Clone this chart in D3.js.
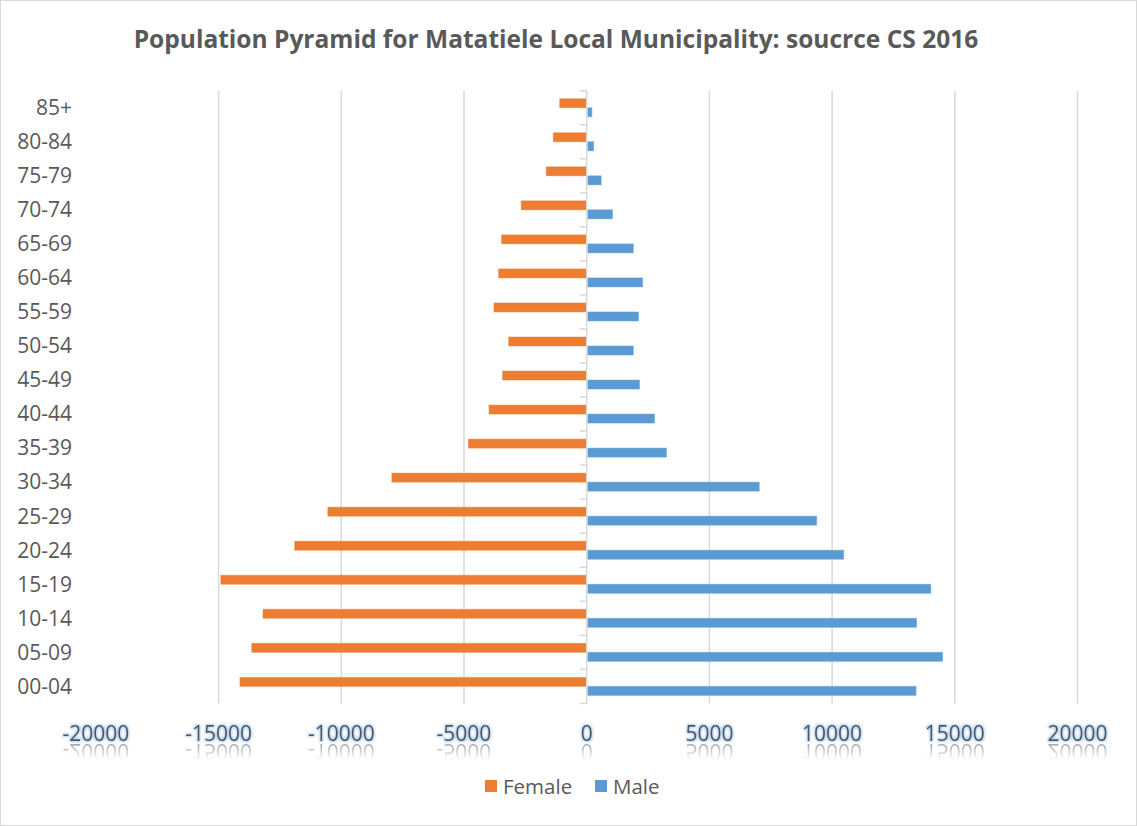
<!DOCTYPE html>
<html>
<head>
<meta charset="utf-8">
<script src="https://cdn.jsdelivr.net/npm/d3@7"></script>
<style>
  html, body { margin: 0; padding: 0; background: #fff; }
  svg { display: block; }
</style>
</head>
<body>
<svg id="chart" width="1137" height="826"></svg>
<script>
// Age groups, youngest first
const ageGroups = ["00-04","05-09","10-14","15-19","20-24","25-29","30-34","35-39","40-44",
                   "45-49","50-54","55-59","60-64","65-69","70-74","75-79","80-84","85+"];
// Population counts per age group (female plotted to the left of zero)
const female = [14130, 13650, 13190, 14910, 11900, 10550, 7940, 4820, 3980,
                3430, 3180, 3780, 3590, 3470, 2670, 1650, 1360, 1100];
const male   = [13400, 14480, 13420, 14000, 10450, 9350, 7010, 3230, 2740,
                2130, 1880, 2090, 2260, 1880, 1030, 570, 260, 190];
const seriesNames = ["Female", "Male"];
const xTicks = [-20000, -15000, -10000, -5000, 0, 5000, 10000, 15000, 20000];
const titleText = "Population Pyramid for Matatiele Local Municipality: soucrce CS 2016";

const colors = { Female: "#ED7D31", Male: "#5B9BD5" };
const W = 1137, H = 826;
const plot = { left: 95.9, right: 1077.5, top: 90.7, bottom: 703.4 };
const font = "'Open Sans', 'Noto Sans', sans-serif";

const svg = d3.select("#chart");

// outer frame
svg.append("rect").attr("x", 0.5).attr("y", 0.5).attr("width", W - 1).attr("height", H - 1)
  .attr("fill", "#fff").attr("stroke", "#d9d9d9");

const defs = svg.append("defs");
// soft blue halo around the value-axis labels
const glow = defs.append("filter").attr("id", "glow").attr("x", "-20%").attr("y", "-40%")
  .attr("width", "140%").attr("height", "180%");
glow.append("feMorphology").attr("in", "SourceAlpha").attr("operator", "dilate").attr("radius", 1).attr("result", "dil");
glow.append("feGaussianBlur").attr("in", "dil").attr("stdDeviation", 1).attr("result", "blur");
glow.append("feFlood").attr("flood-color", "#9DC3E6").attr("flood-opacity", 0.75);
glow.append("feComposite").attr("in2", "blur").attr("operator", "in").attr("result", "halo");
const gm = glow.append("feMerge");
gm.append("feMergeNode").attr("in", "halo");
gm.append("feMergeNode").attr("in", "SourceGraphic");

// fading mask for the mirrored labels
const grad = defs.append("linearGradient").attr("id", "fade").attr("x1", 0).attr("y1", 0).attr("x2", 0).attr("y2", 1);
grad.append("stop").attr("offset", "0%").attr("stop-color", "#fff").attr("stop-opacity", 0.55);
grad.append("stop").attr("offset", "100%").attr("stop-color", "#fff").attr("stop-opacity", 0);
const mask = defs.append("mask").attr("id", "reflMask").attr("maskUnits", "userSpaceOnUse");
mask.append("rect").attr("x", 0).attr("y", 744).attr("width", W).attr("height", 16).attr("fill", "url(#fade)");
const blurF = defs.append("filter").attr("id", "soft");
blurF.append("feGaussianBlur").attr("stdDeviation", 0.5);

// scales
const x = d3.scaleLinear().domain([xTicks[0], xTicks[xTicks.length - 1]]).range([plot.left, plot.right]);
const y = d3.scaleBand().domain(ageGroups.slice().reverse()).range([plot.top, plot.bottom]).padding(0);
const ySub = d3.scaleBand().domain(seriesNames).range([0, y.bandwidth()]).paddingInner(0).paddingOuter(0.89);

// title, sized to span its usual width
const title = svg.append("text").attr("x", 556).attr("y", 48).attr("text-anchor", "middle")
  .attr("font-family", font).attr("font-weight", 700).attr("font-size", 24)
  .attr("fill", "#595959").text(titleText);
const tw = title.node().getComputedTextLength();
title.attr("font-size", 24 * 845 / tw);

// vertical gridlines (none drawn at the left edge or at zero)
svg.append("g").selectAll("line").data(xTicks.filter(d => d !== 0 && d !== xTicks[0])).join("line")
  .attr("x1", d => x(d)).attr("x2", d => x(d))
  .attr("y1", plot.top).attr("y2", plot.bottom)
  .attr("stroke", "#d9d9d9").attr("stroke-width", 1.5);

// bars
const rows = ageGroups.map((g, i) => ({ group: g, Female: -female[i], Male: male[i] }));
const barG = svg.append("g");
seriesNames.forEach(s => {
  barG.append("g").selectAll("rect").data(rows).join("rect")
    .attr("x", d => Math.min(x(0), x(d[s])) + (s === "Male" ? 1 : 0))
    .attr("width", d => Math.abs(x(d[s]) - x(0)) - 0.5)
    .attr("y", d => y(d.group) + ySub(s))
    .attr("height", ySub.bandwidth())
    .attr("fill", colors[s])
    .attr("stroke", colors[s]).attr("stroke-opacity", 0.45).attr("stroke-width", 1);
});

// category axis at zero with ticks pointing left
const yAxis = d3.axisLeft(y).tickSize(7).tickFormat("");
const yAxisG = svg.append("g").attr("transform", `translate(${x(0)},0)`);
yAxisG.call(yAxis);
yAxisG.selectAll(".tick").remove();
yAxisG.select(".domain").attr("stroke", "#d9d9d9").attr("stroke-width", 1.5)
  .attr("d", `M0,${plot.top}V${plot.bottom}`);
// tick marks on category boundaries
const bounds = ageGroups.map(g => y(g)).concat([plot.bottom]);
yAxisG.selectAll("line.bnd").data(bounds).join("line").attr("class", "bnd")
  .attr("x1", -7).attr("x2", 0).attr("y1", d => d).attr("y2", d => d)
  .attr("stroke", "#d9d9d9").attr("stroke-width", 1.5);

// category labels on the left
svg.append("g").selectAll("text").data(ageGroups).join("text")
  .attr("x", 72).attr("y", d => y(d) + y.bandwidth() / 2)
  .attr("dy", "0.35em").attr("text-anchor", "end")
  .attr("font-family", font).attr("font-size", 21).attr("fill", "#595959")
  .text(d => d);

// value-axis labels with glow and reflection
const fmt = d => String(d);
const xAxisG = svg.append("g");
xAxisG.selectAll("text.lbl").data(xTicks).join("text").attr("class", "lbl")
  .attr("x", d => x(d)).attr("y", 741).attr("text-anchor", "middle")
  .attr("font-family", font).attr("font-size", 21).attr("fill", "#4A5561")
  .attr("filter", "url(#glow)").text(fmt);
const refl = xAxisG.append("g").attr("mask", "url(#reflMask)");
refl.selectAll("text").data(xTicks).join("text")
  .attr("x", d => x(d)).attr("y", 741).attr("text-anchor", "middle")
  .attr("transform", "translate(0,1485) scale(1,-1)")
  .attr("font-family", font).attr("font-size", 21).attr("fill", "#5a6570")
  .attr("filter", "url(#soft)").text(fmt);

// legend
const legend = svg.append("g");
const legendItems = [{ name: "Female", x: 485 }, { name: "Male", x: 595 }];
legend.selectAll("rect").data(legendItems).join("rect")
  .attr("x", d => d.x).attr("y", 780).attr("width", 12).attr("height", 12)
  .attr("fill", d => colors[d.name]);
legend.selectAll("text").data(legendItems).join("text")
  .attr("x", d => d.x + 18).attr("y", 794)
  .attr("font-family", font).attr("font-size", 20.5).attr("fill", "#595959")
  .text(d => d.name);
</script>
</body>
</html>
